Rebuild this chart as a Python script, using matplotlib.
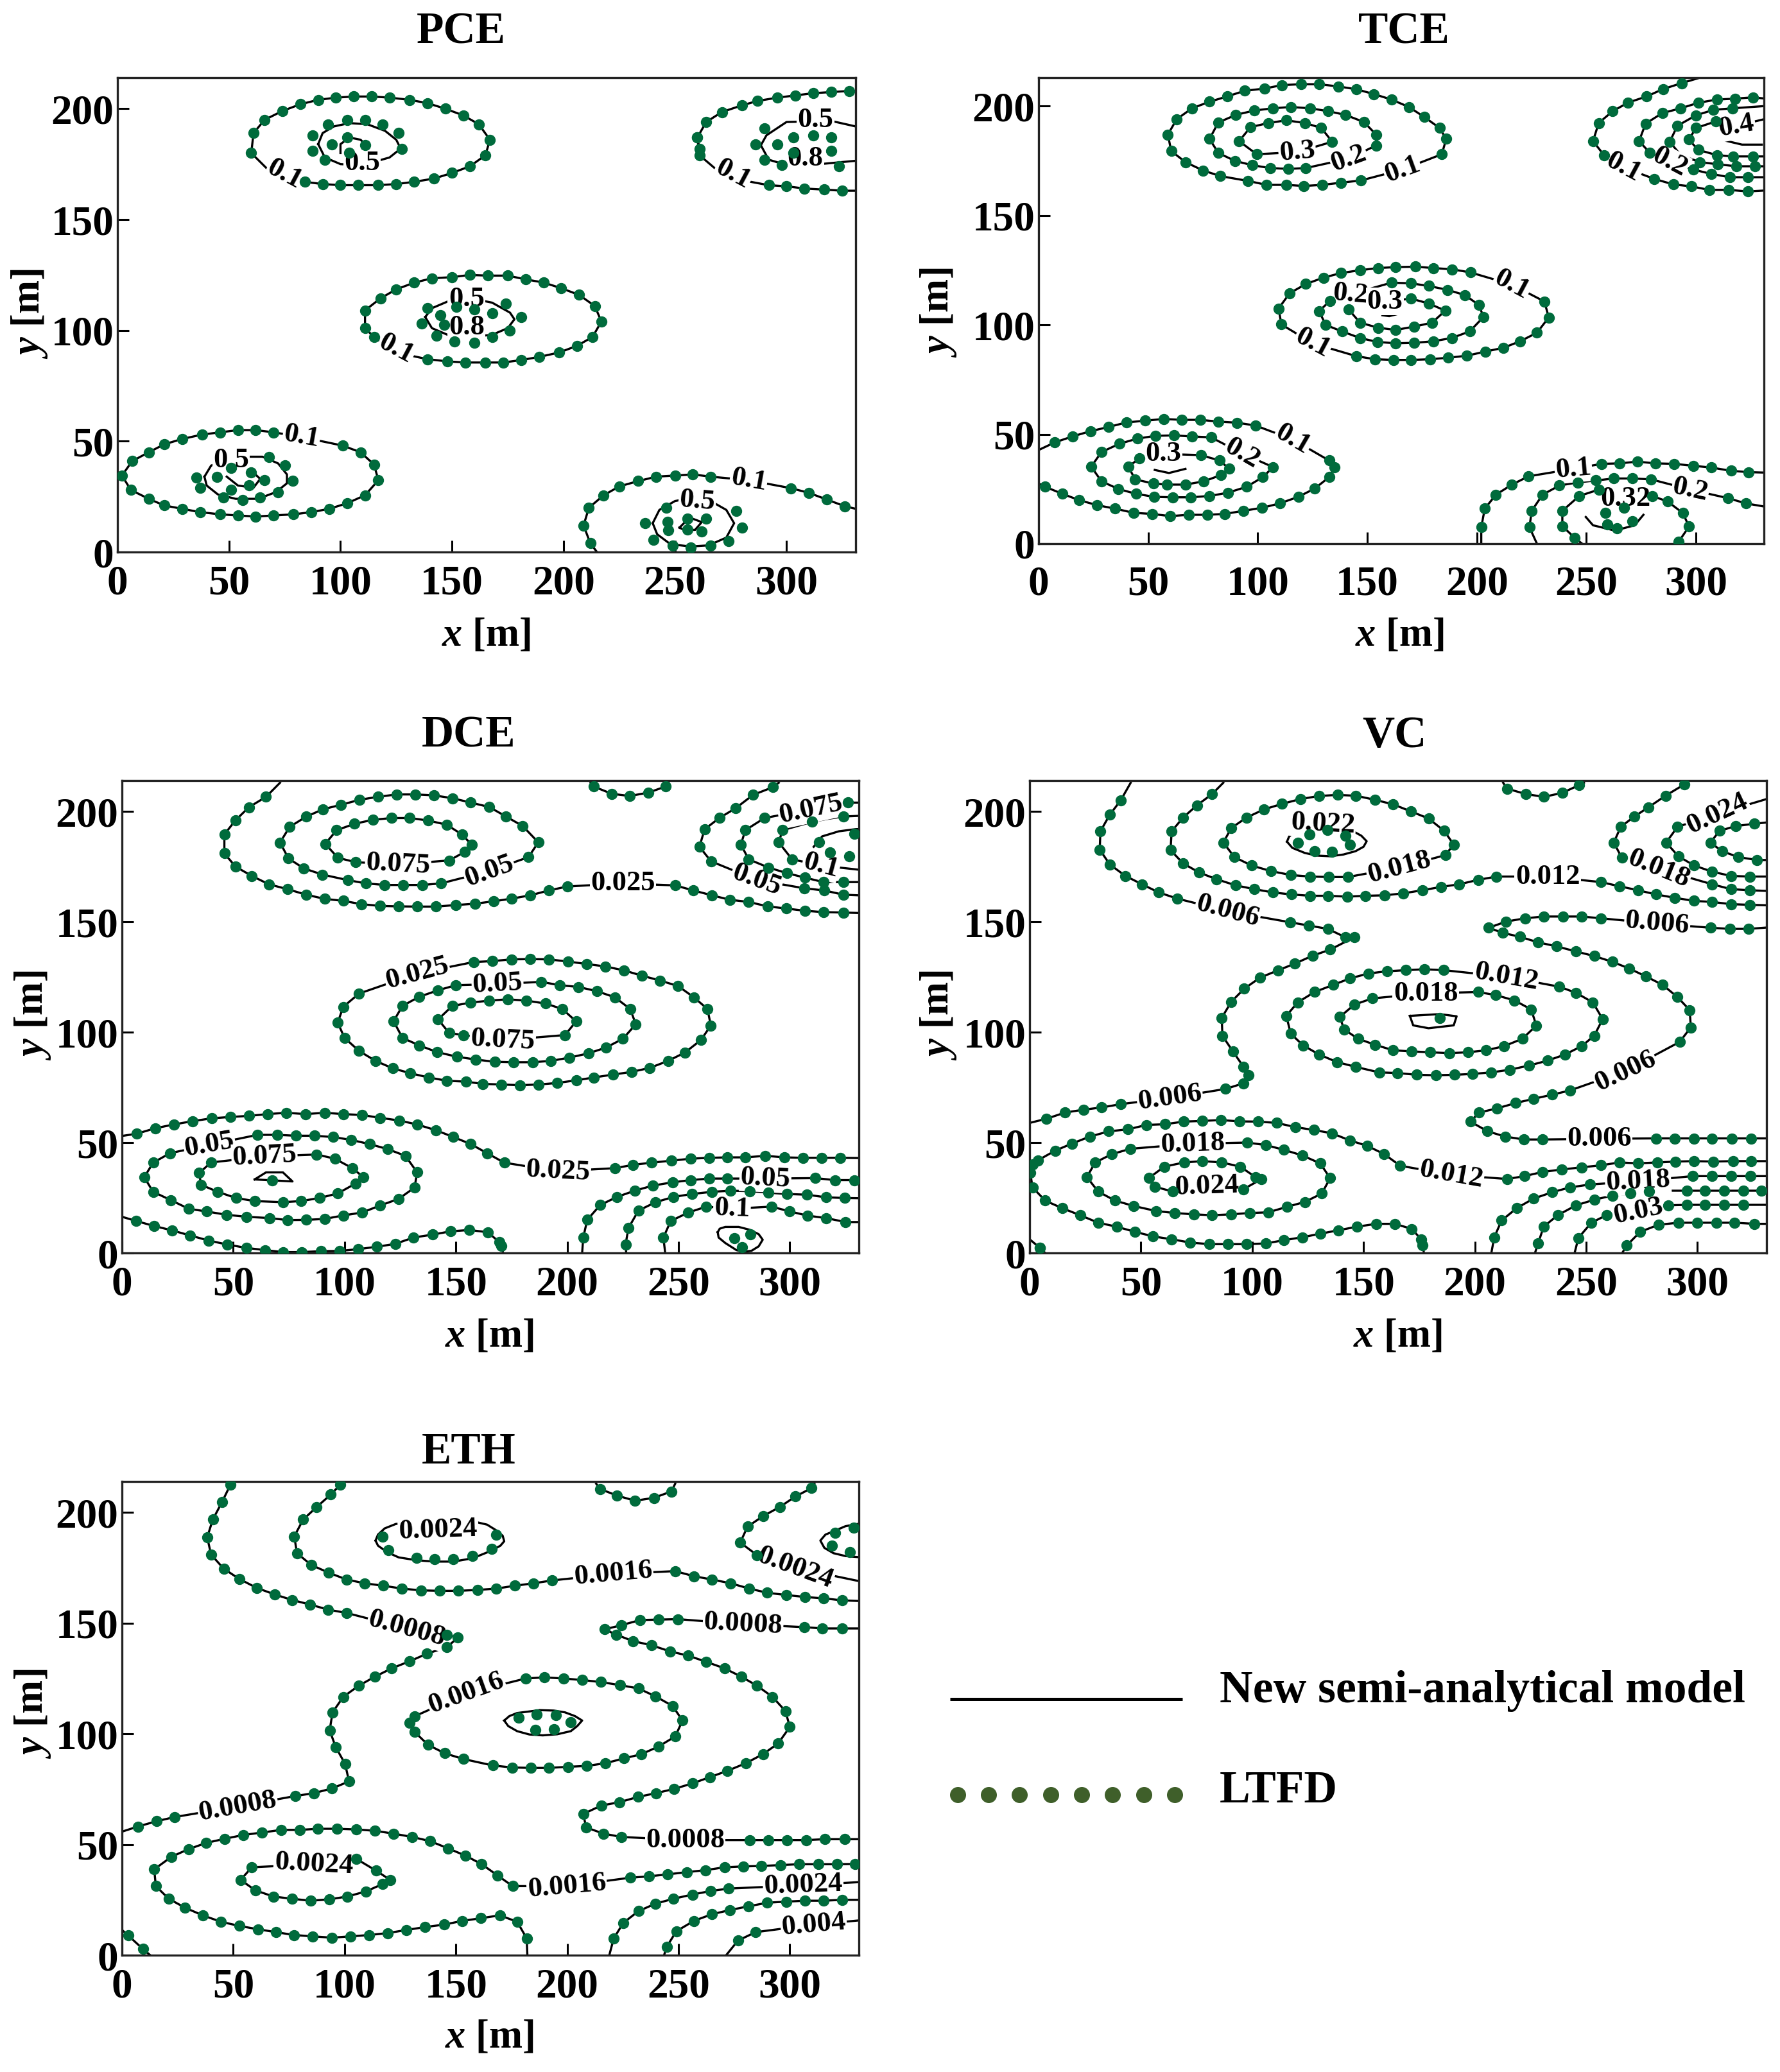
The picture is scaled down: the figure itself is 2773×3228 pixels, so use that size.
import matplotlib
matplotlib.use('Agg')
import matplotlib.pyplot as plt

plt.rcParams['font.family'] = ['Liberation Serif', 'DejaVu Serif']
plt.rcParams['font.weight'] = 'bold'
plt.rcParams['mathtext.fontset'] = 'custom'
plt.rcParams['mathtext.rm'] = 'Liberation Serif:bold'
plt.rcParams['mathtext.bfit'] = 'Liberation Serif:italic:bold'
plt.rcParams['mathtext.it'] = 'Liberation Serif:italic:bold'

XTICKS = [0, 50, 100, 150, 200, 250, 300]
YTICKS = [0, 50, 100, 150, 200]

# ---------- PCE ----------
PCE_A = [(60,180),(61,189),(66,195),(74,199),(82,202),(90,204),(98,205),(106,205.5),(114,205.5),(122,205),(131,204),(139,202.5),(147,200),(155,197),(162,193),(167,186),(165,179),(158,174),(150,171),(142,168.5),(133,167),(125,166),(117,165.5),(108,165.5),(100,165.5),(92,166),(84,167),(75,170),(67,173),(60,180)]
PCE_B = [(261,182),(260,187),(264,194),(271,198.5),(280,201.5),(287,203.5),(296,205),(304,206),(312,207),(320,207.5),(328,208),(331,208)]
PCE_B2 = [(260,187),(261,179),(268,173),(276,169),(284,167),(292,165.5),(300,165),(308,164),(317,163.5),(325,163),(331,163)]
PCE_C = [(111,101),(111,109),(118,114.5),(125,118.5),(133,121.5),(141,123.5),(150,124),(158,125),(166,124.7),(175,124.7),(183,123),(191,121.6),(199,119),(207,116),(214,111),(217,104),(213,97),(206,93),(198,90),(189,88),(181,86.6),(173,85.5),(165,85.5),(156,85.5),(148,86),(139,87),(125,90),(115,97),(111,101)]
PCE_D = [(2,34.5),(6.6,41),(14,45),(21,48.6),(29,51),(38,53),(46,54),(54,55),(62,55),(70,54),(82,52),(101,48),(109,45),(115,39.5),(117,32.4),(111,25.6),(103,22),(95,19.5),(87,18),(79,17),(70,16.5),(62,16),(54,16.5),(46,17),(37,18),(29,19.5),(21,21),(14,24),(6,28),(2,34.5)]
PCE_E = [(215,0),(212,4),(209,12),(211.4,20),(218,25.6),(225,29.6),(233.5,32),(241.6,34),(250,34.5),(258,35),(266,34),(283,32.4),(302,28.8),(310,26.7),(318,23.7),(326,20.7),(331,19.5)]
PCE_LINE_1 = [(90,184),(92,189),(97,192),(104,193.5),(112,193),(120,190),(125,186),(127,182),(122,178),(115,176),(108,174.5),(100,175),(93,178),(90,184)]
PCE_LINE_2 = [(100,180),(100,184),(104,187),(109,186),(112,183),(108,180)]
PCE_LINE_3 = [(331,192),(320,194.5),(300,194),(291,188),(288.5,183.5),(292,177),(302,174),(315,175),(331,176.5)]
PCE_LINE_4 = [(138,106),(141,110),(148,113),(158,114.5),(168,112.5),(176,108),(178,105),(175,101),(168,98),(158,97),(148,98),(141,101),(138,106)]
PCE_LINE_5 = [(39,34),(42,39),(48,41.5),(55,43),(65,43),(72,40),(76,35),(76,31),(71,27),(63,24),(53,24),(45,26),(40,30),(39,34)]
PCE_LINE_6 = [(49,34),(54,30),(61,29),(64,33),(60,36.7)]
PCE_LINE_7 = [(240,13),(243,19),(250,23),(258,24.5),(266,23),(273,19),(276.5,13),(273,6.5),(265,3),(257,2.5),(248,3.5),(242,8),(240,13)]
PCE_LINE_8 = [(252,11),(254,13),(258,15),(262,13.5),(259,10),(254,10),(252,11)]
PCE_DOTS_1 = [(87.5,188),(94.5,193),(103,195),(111,195),(119,193),(126,189),(127.5,182),(87.5,181),(93,177),(96,184),(103,187),(111,183.5),(104,180)]
PCE_DOTS_2 = [(290,191),(286,184),(290,177),(298,174.5),(323.5,174),(320,187),(296,184),(303,187),(312,188),(320,181),(303,180)]
PCE_DOTS_3 = [(139,110),(136.5,103),(143,97.5),(168,97),(176,100),(181,106),(174,112),(144.7,107),(152,110.5),(160,109.6),(168,107.7),(146.5,102.6),(151,95),(160,94.5)]
PCE_DOTS_4 = [(35.5,33.5),(37,29),(47.5,24.5),(56,23.5),(64,24.5),(72,27),(78.5,32),(75,39),(68,43),(44.7,34),(51,38),(60,36),(66,32.4),(59,30),(51,28)]
PCE_DOTS_5 = [(236.5,13),(240.4,5.6),(249,3),(257,2),(266,3),(274,5),(280,11),(277.4,18.5),(246,20),(246.7,13.5),(247,9.8),(255.6,15),(255.6,10),(263.8,15),(262,9.4)]
PCE_LABELS = [('0.1',75,170.4,-28),('0.5',109.6,175.5,0),('0.1',276,170.4,-28),('0.5',313,195,0),('0.8',308.4,177.4,0),('0.5',156.5,114,0),('0.8',156.5,101.3,0),('0.1',125,91.7,-28),('0.5',51,41.4,0),('0.1',82.5,52,-10),('0.1',283,32.4,-10),('0.5',260,23,-5)]

# ---------- TCE ----------
TCE_A = [(59,187),(63,194),(70,199),(78,202),(86,204.4),(94,207),(103,208),(111,209.6),(119.7,210),(128,210),(136.7,209),(145,207.7),(153,205.5),(161,203),(169,199.6),(176,195),(183,190),(186,185),(184,178),(166,171),(147,166),(138,165),(129.5,164),(121,163.5),(113,164),(104,164),(95.6,165.8),(83,168),(75,170.6),(67,174.4),(60.5,179.5),(59,187)]
TCE_B = [(78,185),(82,192.5),(90,196),(98.5,198),(107,199),(115,199.6),(124,199),(132,197.7),(140,196),(148.5,192.7),(154,187),(154,182),(141.5,176),(122,171.7),(114,171.3),(105.6,171.7),(97.4,173),(89.5,175),(82,178.6),(78,185)]
TCE_C = [(91.5,184),(96.7,190.4),(105,192.3),(113,193.5),(121.5,192.3),(129,190),(134,183.7),(118,179),(99.5,178),(91.5,184)]
TCE_D = [(302.5,214),(301.8,213),(293.4,210.5),(285,207.8),(277.4,204.4),(269,201.6),(262,197.7),(255.6,192.3),(253,184),(258,177.6),(267,172),(281,166.7),(289.7,164.2),(298,163.3),(306,161.7),(315,161.7),(323.6,161),(331,161.4)]
TCE_E = [(331,203.5),(326,204),(317.7,203.4),(309.5,203),(301,201.5),(293,199),(284.6,196.8),(277,192),(274,184),(279,178.6),(288,174.4),(298.7,171),(307,169),(315.4,167.5),(323.6,167.5),(331,167.5)]
TCE_F = [(331,200),(316.7,199),(308,198.3),(300,195.8),(291.5,191),(288,183.7),(293,177.6),(301.8,174.4),(310,173.4),(318.3,172.5),(327,172.5),(331,172.5)]
TCE_G = [(331,194),(318.5,191),(309,193),(300,190),(296.7,184.7),(301,180),(309.5,177.6),(317,177),(326,177),(331,177)]
TCE_H = [(109.5,107.5),(114.6,114.5),(122,118.7),(130,121.6),(138,123.7),(146.7,125),(155,126),(163,126.4),(171.8,126.6),(180,126),(188.7,125.4),(197,124),(216,118.4),(230.8,110.7),(232.8,103.4),(227.4,96.4),(219.7,92.5),(212,89.5),(203.8,87.8),(195.4,85.9),(187,85),(178.7,84.3),(170,84),(162,84),(153.6,84.3),(145,85.7),(125,91.6),(110.8,100.2),(109.5,107.5)]
TCE_I = [(128,106.3),(133,111),(142.3,114),(161,119.3),(170,119),(178,117.8),(186.7,116),(194.6,113.6),(201,109),(203,103.6),(196.7,97),(188.5,94),(180,92.5),(171.5,91.8),(162.8,91.6),(154.6,92.2),(146.7,94),(138.5,97),(131,100),(128,106.3)]
TCE_J = [(141.5,107),(146,110),(158,110.7),(170,112),(178,109.8),(185.6,106.5),(179.5,101),(171.3,99.2),(163,97.7),(155,98.7),(146.7,101),(141.5,107)]
TCE_K = [(0,42.8),(7.4,46.3),(15.4,49),(23.6,51.4),(31.8,53.3),(40,55.4),(48.5,56.2),(57,57),(65.4,56.6),(73.8,56.6),(82,55.8),(90.5,55.3),(99,54),(116,47.6),(132.6,38),(135,35),(132.6,30.4),(126,25.2),(118.5,21.4),(110,18.4),(102,16.4),(93.3,15),(85,13.6),(77,13.2),(68.5,13.2),(60,12.6),(51.8,13.6),(43.3,14.1),(35,16),(26.7,17.6),(18.5,19.9),(10.8,22.8),(3,26),(0,27.5)]
TCE_L = [(24,35.2),(28.7,41.9),(37,45.7),(45,48),(53.3,49.3),(61.8,49.5),(70,49),(78.7,48.6),(92.8,41.3),(107,35),(102.3,30.4),(94.9,26),(86.4,23.3),(78,21.8),(69.5,21.2),(61.3,21.2),(52.8,21.4),(44.4,22.8),(36.4,25),(28.7,28.5),(24,35.2)]
TCE_M = [(41,35.2),(46,39),(57,41),(74,40.5),(82.6,38),(87,34.2),(83.3,31.4),(75.4,28.5),(67,27),(58.7,27),(52.3,27.5),(44,29.4),(41,35.2)]
TCE_N = [(202,0),(202,7.5),(203.6,16),(208.7,22.4),(216,27),(223.6,30.8),(244,34.2),(257,36.5),(265,36.7),(273.3,37.5),(281.5,36.7),(290,36.5),(298.7,35.6),(307,34.8),(316,33.3),(324,32.7),(331,32.5)]
TCE_O = [(227.4,0),(224,7.5),(225,15),(230,22.4),(237.7,26.6),(246,28),(254.4,28.9),(262.6,29.8),(271,29.8),(279.5,29.4),(297.4,24.7),(314.6,20.8),(322.8,18.4),(331,17)]
TCE_P = [(248,0),(244.6,2.7),(239,8),(239,15),(246.7,21.8),(255.6,24.7),(267.7,20.5),(280,21.8),(287,19.3),(294,14),(296.8,7.8),(292,0.8),(291,0)]
TCE_LINE_1 = [(249.7,12.2),(253,8.4),(263,6),(272,8.4),(276,13.2)]
TCE_LINE_2 = [(313,184.3),(321,182.4),(330,182.4)]
TCE_LINE_3 = [(53,33.7),(59.5,32.3),(67,34.2)]
TCE_LINE_4 = [(156.9,104.4),(160,104),(164,105)]
TCE_DOTS_1 = [(258.7,14),(259.4,8.8),(264,6.9),(271,10.3),(267,16.4)]
TCE_LABELS = [('0.3',118,179,5),('0.2',141.5,176,20),('0.1',166,171,20),('0.1',267,172,-28),('0.2',288,174.4,-28),('0.4',318.5,191,10),('0.2',142.3,114,-5),('0.3',158,110.7,0),('0.1',216,118.4,-28),('0.1',125,91.6,-28),('0.3',57,41,0),('0.2',92.8,41.3,-30),('0.1',116,47.6,-30),('0.1',244,34.2,5),('0.2',297.4,24.7,-12),('0.32',267.7,20.5,0)]

# ---------- DCE ----------
DCE_A = [(71,213),(64.7,206.6),(57,201.9),(51,196),(46,189.6),(46,181),(51,175),(58.3,170.8),(66,167),(74.3,164.8),(82.7,162.3),(91,160.4),(99.4,159.5),(107.5,158),(116,157.2),(124.3,157),(132.6,156.9),(141,156.9),(150,157.6),(158.5,158.2),(167,159.3),(175,160.5),(183.4,162),(191.7,164.2),(200,166),(225,167.4),(248.5,166.5),(256.7,164.2),(265,162),(273,160),(281.5,159),(290,157),(298.5,156),(306.9,155),(315,154.4),(324,154.2),(331,154)]
DCE_B = [(295,213),(292.4,211),(283.5,207.5),(275.7,201.5),(268.3,197),(261.7,191.9),(259.4,184),(264.6,177.4),(285,169),(306.4,165.2),(315.5,164.2),(324,162.3),(331,162)]
DCE_C = [(331,204),(326,204),(309.4,201),(288.6,197),(280,191.5),(278,185),(281.5,178.3),(290.4,174.6),(298.8,172),(306.9,170),(315,168),(324,168),(331,168)]
DCE_D = [(331,198),(324,197.7),(316.7,196.6),(310,195.3),(296.7,191.5),(295,186),(301,178.3),(314,175.5),(331,173.6)]
DCE_E = [(210.5,213),(211.8,211.3),(220,208),(228,207),(236.4,208.5),(244.2,211.3),(245.5,213)]
DCE_F = [(71,185.9),(75.3,193),(82.7,197.6),(90.3,201),(98.4,203),(106.8,205.3),(114.9,206.6),(123.3,207.7),(131.9,207.7),(140,207.3),(148.4,206),(156.7,204),(165,202),(172.5,197.7),(180,193.4),(187,186),(182.6,179.3),(165,173),(143.3,167.4),(134.9,166.7),(126.3,166.7),(118,166.7),(109.6,167.4),(101.4,168.9),(90,171.4),(81.7,174.2),(74.8,178.7),(71,185.9)]
DCE_G = [(91.3,185.3),(96.4,191.5),(104.5,194.4),(112.6,196.2),(121,197),(129.3,197),(137.5,195.9),(145.8,194),(152.7,189.6),(157,185),(154,181.7),(147,177.8),(124,176),(105,177),(97,179),(91.3,185.3)]
DCE_H = [(96.9,104.3),(99.4,111.5),(106.5,117.5),(132.6,126.6),(158,131.8),(166.4,132.2),(175,133),(183.4,133.1),(191.7,133),(200.3,132),(208.7,130.9),(217,129.8),(225.5,128),(233.6,125.6),(241.7,123.4),(249.8,120.9),(256.9,115.8),(263,110.5),(264.5,103),(260,96.4),(252.9,90.8),(245.3,87),(237,83.8),(228.8,82),(220.6,80.8),(212,79.5),(204,78.2),(195.5,77),(187,76.3),(178.8,76),(170.4,76.3),(162,76.6),(154.4,77.6),(146,78),(137.7,79.5),(129.6,81.4),(121.7,83.6),(113.9,87),(106.5,91.5),(100,97.4),(96.9,104.3)]
DCE_I = [(122,105),(126,111.9),(133.4,116),(142,119),(150,121.3),(168.7,121.8),(188.4,122.8),(196.5,121.3),(205,120.5),(213.3,118.6),(221.4,115.8),(228.3,110.5),(230.8,103.6),(225,97),(217.3,93),(209.5,90.4),(201,88.5),(192.7,87),(184.4,86.4),(176,86.4),(167.4,86.6),(159,87.6),(150.4,88.9),(141.5,91),(133.6,94),(126,97.4),(122,105)]
DCE_J = [(142,105.8),(148.4,111.9),(156.5,113.4),(165,114.3),(173.2,114.9),(181.6,114.3),(190.2,113),(197.8,110.5),(204,104.9),(199,98.7),(171,96.4),(153.4,98.7),(147,99.6),(142,105.8)]
DCE_K = [(0,53),(6.6,54),(15,56.5),(23.3,58.2),(31.7,59.7),(40.3,61),(48.7,61.6),(57,62.1),(65.4,62.9),(73.8,63.5),(82.4,62.9),(91,63.5),(99.4,62.9),(107.8,62.5),(116,61.2),(124.5,60),(132.6,58.2),(141,55.6),(148.9,52.5),(156.7,49.3),(164,45.2),(171.7,40.9),(195.8,37),(221.4,38.4),(229.5,39.9),(237.9,40.9),(246.8,41.8),(255.4,42.7),(263.8,43.1),(272,43.3),(280,43.3),(289,44),(297.6,43.3),(306,43.1),(314.2,43.1),(322.6,43.1),(331,43)]
DCE_L = [(10,34.3),(14,40.9),(21.6,45.2),(39.3,49),(60.9,53.5),(69.7,53.5),(78,53.1),(86.5,53.1),(94.9,52.5),(103,51.2),(111.3,49.3),(119.5,47),(127.3,44),(132.6,36.5),(131.4,29.6),(124.3,24.5),(116,21.5),(107.8,18.3),(99.4,17),(91,15.4),(82.7,15),(74.3,14.9),(66.2,15.8),(55.8,16.4),(46.9,17.3),(38,18.8),(30,20),(22,23.9),(14,27.7),(10,34.3)]
DCE_M = [(34.7,36.2),(40,41),(64,43.7),(87.5,44.6),(95.6,42.7),(103.5,38.4),(108.5,34.3),(105,31.5),(97,27),(88.8,24.9),(80.4,23.5),(72.3,23),(59.6,23.5),(51.2,24.9),(43,27.7),(35.5,30.9),(34.7,36.2)]
DCE_N = [(0,16.4),(6.3,14.5),(14.5,12.2),(22.6,10.2),(30.7,7.9),(39,5.6),(47.4,3.8),(55.8,2.3),(64.2,1.3),(72.3,0.4),(80.6,0.4),(89.3,0.8),(97.6,0.9),(106,1.7),(114.4,2.8),(122.7,4.1),(131,7),(139.5,8.3),(147.6,9.8),(156,10.4),(164.3,9.4),(169.4,5),(170.4,3.2),(171.2,0)]
DCE_O = [(206.7,0),(207.2,7),(209,15),(214.8,21.7),(222.4,25.4),(230.3,28.2),(238.4,30.5),(247.3,32),(255.4,33),(263.8,33.7),(272,33.7),(289,33.7),(311.4,33.9),(320.3,33),(329,33),(331,33)]
DCE_P = [(226.5,0),(226.2,3.8),(227.5,11.3),(232,19.2),(239.7,23),(247.8,25.4),(256,26.7),(265,27.7),(273.4,28.2),(282,28),(290.4,27.3),(298.8,26.7),(307.6,26.4),(316.3,25.2),(324.6,24.9),(331,24.8)]
DCE_Q = [(244,0),(243.2,7),(246.5,14.5),(254.4,18.3),(262.5,21),(274,20),(291.7,21),(300,18.8),(308,16.9),(316.3,15.8),(325,14),(331,14)]
DCE_LINE_1 = [(59.6,33.3),(64.7,36.5),(72.3,36.5),(76.6,32.4),(59.6,33.3)]
DCE_LINE_2 = [(267.6,9.4),(268.5,11),(271,11.8),(277,11.8),(282,10.5),(286,8.5),(287.8,6),(286,3),(282.8,1),(279,0.5),(276,1.3),(271,4.5),(268,7),(267.6,9.4)]
DCE_LINE_3 = [(331,192),(329.7,192),(322,191),(314.5,188.7),(310.7,184)]
DCE_DOTS_1 = [(67.5,33),(275.2,6.6),(282.3,8.3),(278.5,2.6),(313,186),(318,181.5),(326.7,179.7),(329,190)]
DCE_LABELS = [('0.075',124,176,-3),('0.05',165,173,20),('0.025',225,167.4,0),('0.05',285,169,-20),('0.075',309.4,201,12),('0.1',314,175.5,-15),('0.025',132.6,126.6,15),('0.05',168.7,121.8,3),('0.075',171,96.4,-3),('0.05',39.3,49,10),('0.075',64,43.7,3),('0.025',195.8,37,-3),('0.05',289,33.7,-3),('0.1',274,20,-2)]

# ---------- VC ----------
VC_A = [(45.4,213),(40.9,205),(36,198.5),(31.8,191),(31.5,182.7),(36,176),(43,170.8),(50.5,167),(58,163.3),(66.4,160.5),(89,154.8),(117,149.8),(125.4,148.3),(134,146.8),(141.8,143),(145.8,143),(135,137.4),(127.2,134.7),(119,131),(111.5,128),(103.5,124.7),(96.4,119.7),(90.6,113.8),(86.3,106.5),(86.6,98.4),(91.3,91.3),(96.1,84.3),(98.4,80.5),(95.9,76.8),(88,74.3),(63,70.2),(40.9,67.4),(32.3,65.9),(24.2,64.9),(15.9,63.6),(7.6,60.8),(0,58.9)]
VC_B = [(87,213),(82,207.9),(75.2,202.8),(68.9,197.2),(63.8,191),(63.3,182.5),(68.9,176.5),(76.2,172.3),(84,169.3),(92.6,166.5),(101,164.8),(109.3,163.3),(117.6,162.4),(126,161.8),(134.2,161.8),(142.6,161.4),(150.9,161.8),(159.5,162),(167.8,162.9),(176.4,164.3),(184.7,165.8),(193,167),(201.4,169),(209.7,170.5),(232.7,170.5),(256.6,168),(265,166.1),(273.3,164.3),(281.4,162.4),(289.7,160.9),(298.3,159.5),(306.6,159),(315,158),(323.5,157.7),(331,157.5)]
VC_C = [(87,185.9),(90.6,192.5),(97.4,197.2),(105.2,200.9),(113.3,203.4),(121.6,205.6),(130,207),(138.3,207.5),(146.6,207.1),(155,205.3),(163.3,203.2),(171.3,200),(179.2,196.8),(186.2,191.2),(190.5,185),(186.7,180.2),(166,174.6),(143,170.3),(134.5,170.3),(126,170.5),(117.3,171.2),(108.3,173),(99.7,175.5),(92,179.3),(87,185.9)]
VC_D = [(212.7,213),(214.5,210.3),(222.8,207.9),(231,206.6),(239.2,208.4),(246.8,211.9),(249,213)]
VC_E = [(295,213),(294,212.2),(285.6,207.1),(278,201.9),(271.5,197.6),(265.5,193),(262.4,185.9),(266,179),(282.6,174),(306.6,167),(315,164.8),(323.5,164.3),(331,164)]
VC_F = [(331,205.6),(309,199),(291,193),(285.9,185.9),(291.4,179.7),(298.5,175.5),(306.6,172.7),(315,170.8),(323.5,170.5),(331,170.5)]
VC_G = [(331,195),(325.5,194.4),(317.2,193.4),(309.9,191.2),(305.8,185.9),(311,182),(318.4,179.3),(326.8,178),(331,178)]
VC_H = [(331,147.4),(323,146.8),(314.7,146.8),(306,147.3),(281.9,149.2),(256.6,151.6),(248,152.4),(239.7,152.4),(230.9,152.4),(222.6,151.6),(214,150.1),(206.2,147.3),(212.5,145),(220.3,143.2),(228.4,140.7),(236.7,138.9),(245.3,136.6),(253.6,134.5),(261.7,131.9),(269.2,128.9),(276.8,125.3),(284.4,121.4),(291,115.9),(296.5,110),(297,102.2),(292,95.6),(267.5,82.4),(242.7,73.6),(234.7,71.7),(226.3,69.8),(218.3,67.9),(210,65.5),(201.9,63.6),(198,59.5),(205.7,55.1),(213.7,52.7),(222,51.4),(230.4,51.4),(256,51.7),(281.3,51.9),(289.7,51.9),(298.3,51.9),(306.6,51.9),(315.3,51.9),(324.2,51.9),(331,51.9)]
VC_I = [(115.3,107.4),(120.4,113.5),(128,118.2),(136.3,121.4),(144,124.4),(152.2,126.6),(160.5,127.6),(169,128.1),(177.4,128.5),(186,128.1),(214,125.1),(238,120.6),(245.5,117.8),(253,113.5),(257.4,105.9),(253.6,98.4),(248,93.7),(240.5,89.9),(232.6,87.1),(224.3,84.9),(215.7,83),(207.4,81.8),(199,81.1),(190.8,80.7),(182.4,80.5),(173.9,80.7),(165.3,81.5),(157,81.8),(146.4,84.3),(138,86.5),(130,89.9),(122.9,94),(117.3,99.3),(115.3,107.4)]
VC_J = [(139.3,106.9),(145.9,112.5),(153.9,115.3),(177.9,117.6),(201.4,118.2),(209.4,116.8),(217.8,114.4),(225.3,110.3),(227.6,103),(221.3,97),(213.2,93.7),(205.1,91.8),(196.8,90.9),(188.5,90.5),(179.9,90.9),(171.6,91.3),(163.3,91.8),(155.2,94.3),(147.6,97),(141.3,101.2),(139.3,106.9)]
VC_K = [(177.1,0),(176.6,3.4),(175.9,6.2),(171.6,10.9),(164,13.2),(155.7,13.2),(147.1,11.9),(138.8,10.3),(130.5,8.7),(122.4,7.1),(114.3,5.8),(106,4.3),(97.4,4),(89,4),(80.7,4),(72.2,4.7),(63.8,6.2),(55.5,7.5),(47.2,9.6),(39.1,11.9),(30.8,13.7),(22.7,17.1),(14.6,20.3),(7,23.7),(1.3,29.7),(0.3,36.3),(1.3,40),(3.8,42),(11.4,46.3),(18.9,49.5),(27,52.7),(35.6,55.1),(44.2,56),(52.5,58),(60.8,58.3),(69.1,59.5),(77.5,59.8),(85.8,60.2),(94.4,59.6),(102.7,59.5),(111,58.9),(119.4,57),(127.7,55.7),(135.8,54.2),(143.8,51),(151.7,48.5),(159.2,44.8),(166.5,39.5),(189.3,35.4),(214.5,33.5),(222.3,34.8),(230.4,36.7),(239,37.8),(248,38.8),(256.6,39.7),(265,41),(273.3,40.6),(281.9,41),(290.2,41.4),(298.5,41.6),(307,41.4),(316,41.6),(324.2,41.6),(331,41.6)]
VC_L = [(25.7,34.4),(29.5,41),(37,44.8),(45.4,47.2),(73.2,49.5),(97.7,50),(106,48.9),(114.3,46.7),(122.4,44.2),(130.5,40.6),(135,33.9),(131.2,26.9),(123.6,23.1),(115.6,20.9),(107.2,18.4),(98.9,18.1),(90.6,17.5),(82,17.1),(73.7,17.5),(65.1,18.1),(56.8,19),(46.7,21.3),(38.4,23.7),(30.8,27.8),(25.7,34.4)]
VC_M = [(53.5,33.9),(60.5,39.1),(69.4,41),(77.7,41.6),(86.3,41),(94.6,39.1),(101.4,34.4),(104.2,33.5),(95.9,28.8),(79.5,30.3),(64.3,27.8),(56.3,30),(53.5,33.9)]
VC_N = [(0,6.2),(4.5,2.4),(7,0)]
VC_O = [(207.4,0),(208.7,7.1),(212,14.7),(218.8,20.3),(226.3,24.6),(234.7,27.5),(242.7,29.7),(251.6,31),(273.3,32.5),(297.8,34.8),(306.6,34.8),(315.2,34.8),(323.8,34.8),(331,34.8)]
VC_P = [(227,0),(228.4,4.3),(230.9,11.9),(237.2,17.1),(245.5,21.6),(253.6,24.1),(261.7,26),(270,26.9),(278.3,27.8),(286.9,28.2),(295.2,28.2),(303.3,28.2),(312.1,28.2),(320.5,28.2),(328.8,28.2),(331,28.2)]
VC_Q = [(244.8,0),(246.5,6.8),(252.3,13.7),(259.1,17.1),(273.3,19),(286.9,21.6),(295.2,21.8),(303.3,21.8),(312.1,21.8),(320.5,21.8),(331,21.8)]
VC_R = [(266.2,0),(268.2,3.4),(274.3,9.6),(282.6,12.8),(291.4,13.7),(299.8,13.7),(308.4,13.7),(316.7,13.7),(325.5,13.2),(331,13.2)]
VC_LINE_1 = [(115.6,186.3),(116.5,188.5),(118.6,190.6),(131.7,194.4),(145,191.2),(149,189),(151.4,186.5),(150,184),(146.4,182),(141,180.5),(135,179.7),(129,180),(123.6,181.2),(118,183.5),(115.6,186.3)]
VC_LINE_2 = [(170.8,107.4),(184.2,108.2),(191.8,107.2),(190.5,103.1),(179.2,101.8),(172.3,103.1),(170.8,107.4)]
VC_DOTS_1 = [(120.4,185.9),(125.7,189.6),(133.7,191.5),(141.8,189),(143.8,185),(135.8,181.6),(128,182.1),(184.2,106.3),(4.5,2.4)]
VC_LABELS = [('0.022',131.7,194.4,-3),('0.018',166,174.6,15),('0.012',232.7,170.5,0),('0.018',282.6,174,-22),('0.024',309,199,25),('0.006',89,154.8,-15),('0.006',281.9,149.2,-5),('0.012',214,125.1,-10),('0.018',177.9,117.6,0),('0.006',267.5,82.4,25),('0.006',63,70.2,8),('0.006',256,51.7,0),('0.018',73.2,49.5,2),('0.024',79.5,30.3,2),('0.012',189.3,35.4,-10),('0.018',273.3,32.5,3),('0.03',273.3,19,12)]

# ---------- ETH ----------
ETH_A = [(49,213),(48.7,212.5),(45,204.8),(40.8,196.8),(38.3,188.8),(40,181),(45.7,174.6),(52.8,169.9),(60.6,165.9),(68.5,163),(76.3,160.5),(84.5,158.4),(92.6,156.1),(100.9,154.6),(128,147.6),(145.8,144.8),(150.9,143.4),(145.8,139.1),(137,136.2),(129.3,132.8),(121.2,129.6),(113.6,125.8),(106.3,121.7),(99.4,116.7),(94.6,109.7),(93.3,101.6),(96,94),(100.2,86.5),(102,78.5),(94.3,75.3),(86.2,73.2),(77.9,71.9),(52,67.2),(23.6,62.4),(15.5,60.5),(7.1,58.1),(0,55.8)]
ETH_B = [(98,212.5),(93.8,208.1),(87.5,202.5),(81.4,196.8),(77.4,189.2),(78.6,181.6),(85,176.3),(92.8,172.8),(100.9,169.7),(109,168),(117.4,166.9),(125.8,165.6),(134.4,164.8),(142.8,164.6),(151.2,164.6),(159.8,165),(168.1,165.6),(176.5,166.9),(184.9,168),(193.3,169.3),(220.6,172.2),(248.5,173.5),(256.9,171.2),(265,169.7),(273.4,168),(281.8,165.6),(289.9,163.7),(298.5,162.7),(306.9,161.8),(315.2,161.2),(323.4,160.3),(331,160)]
ETH_D = [(213,213),(214.8,210.6),(222.4,207.6),(230.5,205.3),(238.9,206.6),(246.8,209.5),(248.5,213)]
ETH_E = [(311,213),(309.7,211),(302.5,207.2),(295.5,202.5),(287.9,198.3),(281,193.6),(277.7,186.4),(285.3,180.7),(302.3,175),(331,169)]
ETH_F = [(331,147.6),(323.4,147.6),(314.7,147.6),(306.4,148.2),(279,149.5),(249.8,151.8),(241,151.6),(232.8,151.4),(224.4,149.1),(216.8,147.2),(222,144.8),(229.5,141.9),(237.9,140),(246.3,137.2),(254.4,135.3),(262.5,132.5),(270.6,129.6),(278.2,125.8),(285.3,121.7),(292.2,116.7),(298,110.3),(300,103.1),(294.7,95.6),(287.9,90.8),(280.2,86.7),(272,83.3),(264,80.4),(256.2,77.6),(248,75.1),(239.9,73.2),(231.8,71.5),(223.4,69.1),(215.3,67.6),(207.2,63.8),(208.5,57.7),(216.3,54.9),(224.4,53.4),(253,52),(282,52),(290.4,52),(298.8,52),(307.4,52),(315.8,52.4),(324.6,52.4),(331,52.4)]
ETH_G = [(131.4,107.9),(154.7,118.3),(181.3,125),(189.7,125.5),(198.3,125),(206.7,124.3),(215,123.4),(223.7,122),(232,120.5),(239.7,116.9),(247.3,112.6),(251.8,106),(248.5,98.8),(240.9,94.2),(233.3,90.8),(225.5,88.9),(217.1,86.7),(208.7,85.5),(200.4,85.1),(191.7,84.6),(183.6,84.6),(175.2,84.8),(166.6,85.7),(153.4,88.6),(145,91.2),(137.5,95),(131.4,100.9),(129.3,105),(131.4,107.9)]
ETH_H = [(182.1,0),(181.8,7.6),(177.5,15.1),(169.7,18),(161.3,16.7),(152.9,15.5),(144.6,13.8),(136.2,12.7),(127.8,11.4),(119.5,10),(111,9.1),(102.7,8.5),(94.3,7.9),(85.7,8.5),(77.4,9.1),(69.2,10.4),(61.1,11.7),(52.8,13.2),(44.4,15.1),(36.3,18),(28.4,21.4),(21,25.5),(15.2,31.2),(14.5,38.8),(22.3,44.5),(29.9,47.9),(37.8,50.7),(46.2,52.6),(54.5,54.3),(62.9,55.4),(71.5,56.6),(79.9,56.6),(88,57.1),(96.6,57.1),(105.3,56.8),(113.6,56.2),(122,54.9),(130.4,53.4),(138.5,51.5),(146.6,48.2),(154.2,45),(161.6,41.1),(168.7,36),(175.5,31.2),(199.8,31.2),(228.3,35),(236.6,35.6),(245,36.5),(253.6,37.5),(262,38.4),(270.6,39.7),(279,40.1),(287.1,40.3),(295.7,40.7),(304.3,41.1),(312.7,41.1),(321.3,41.1),(329.4,41.2),(331,41.2)]
ETH_I = [(53.3,34),(58.3,39.7),(86.2,41.1),(105.3,43.5),(114.1,38.2),(120.5,34),(117.2,32.2),(109.6,28.8),(101.2,26.5),(93,25.2),(84.7,24.6),(76.3,25.5),(68,26.5),(59.9,29.3),(53.3,34)]
ETH_J = [(0,11.4),(2.8,8.9),(9.4,2.8),(12.7,0)]
ETH_K = [(218.9,0),(220.9,7.6),(225.2,14.6),(232,19.9),(239.7,23.3),(247.8,25.5),(256.2,27.4),(264.5,29),(272.6,30.1),(306,31.6),(331,33)]
ETH_L = [(243.5,0),(244.7,3.8),(249,10.8),(256.9,15.5),(265,18.5),(273.1,20.4),(281.5,22.1),(289.9,23.7),(298.5,24.2),(306.9,24.6),(315.2,24.6),(323.4,25),(331,25)]
ETH_M = [(271.4,0),(276.7,6.6),(284.6,10.4),(310.7,13.8),(331,15.7)]
ETH_LINE_1 = [(331,194.9),(325,193.8),(320.8,192),(316,190),(313.7,187.3),(315.5,184),(319.6,181.6),(325,180.3),(331,179.8)]
ETH_LINE_2 = [(171.7,106),(174,108),(177.5,109.4),(187.6,110.7),(194,110.5),(199,109.7),(203.5,108),(206.7,106),(204.5,103.5),(201.6,101.2),(195.5,99.8),(189,99.3),(183,99.7),(177.5,101.2),(173.5,103.5),(171.7,106)]
ETH_LINE_3 = [(113.9,187.3),(115,190),(118,192.8),(123,194.8),(142,197),(158.5,195.8),(164,194.5),(168,192),(171,189.5),(171.7,187),(170,185),(166.1,182.8),(157.5,179.3),(148.9,177.8),(140.5,177.8),(132.4,178.4),(124.3,179.7),(119.2,182),(115,185),(113.9,187.3)]
ETH_DOTS_1 = [(328.7,193),(320.3,190.7),(318.8,184.9),(327,182),(178.3,107.3),(186.4,108.8),(194.8,108.4),(201.6,105.4),(194,102.2),(185.6,101.8),(117,189),(119.7,183),(132.4,179.4),(140.5,178.8),(148.9,178.8),(157.5,180.3),(166.1,183.5),(168,190)]
ETH_LABELS = [('0.0024',142,192,2),('0.0016',220.6,172.2,5),('0.0024',302.3,175,-20),('0.0008',128,147.6,-15),('0.0008',279,149.5,-3),('0.0016',154.7,118.3,20),('0.0008',52,67.2,10),('0.0008',253,52,0),('0.0024',86.2,41.1,-3),('0.0016',199.8,31.2,5),('0.0024',306,31.6,2),('0.004',310.7,13.8,5)]

LEGEND_NAMES = ['New semi-analytical model', 'LTFD']

W, H = 2773, 3228
fig = plt.figure(figsize=(W/100, H/100), dpi=100, facecolor='white')

PANELS = [
 dict(title='PCE', box=(183,121,1333,860), ytop=214, xpad=14, title_xy=(718,68), xlab=(757,1005), ylab=(46,489),
      both=[PCE_A,PCE_B,PCE_B2,PCE_C,PCE_D,PCE_E],
      lines=[PCE_LINE_1,PCE_LINE_2,PCE_LINE_3,PCE_LINE_4,PCE_LINE_5,PCE_LINE_6,PCE_LINE_7,PCE_LINE_8],
      dots=[PCE_DOTS_1,PCE_DOTS_2,PCE_DOTS_3,PCE_DOTS_4,PCE_DOTS_5], labels=PCE_LABELS),
 dict(title='TCE', box=(1618,121,2748,847), ytop=213, xpad=24, title_xy=(2187,68), xlab=(2180,1005), ylab=(1462,487),
      both=[TCE_A,TCE_B,TCE_C,TCE_D,TCE_E,TCE_F,TCE_G,TCE_H,TCE_I,TCE_J,TCE_K,TCE_L,TCE_M,TCE_N,TCE_O,TCE_P],
      lines=[TCE_LINE_1,TCE_LINE_2,TCE_LINE_3,TCE_LINE_4], dots=[TCE_DOTS_1], labels=TCE_LABELS),
 dict(title='DCE', box=(190,1216,1338,1952), ytop=214, xpad=14, title_xy=(730,1164), xlab=(762,2097), ylab=(51,1582),
      both=[DCE_A,DCE_B,DCE_C,DCE_D,DCE_E,DCE_F,DCE_G,DCE_H,DCE_I,DCE_J,DCE_K,DCE_L,DCE_M,DCE_N,DCE_O,DCE_P,DCE_Q],
      lines=[DCE_LINE_1,DCE_LINE_2,DCE_LINE_3], dots=[DCE_DOTS_1], labels=DCE_LABELS),
 dict(title='VC', box=(1604,1216,2752,1952), ytop=214, xpad=14, title_xy=(2172,1164), xlab=(2177,2097), ylab=(1462,1582),
      both=[VC_A,VC_B,VC_C,VC_D,VC_E,VC_F,VC_G,VC_H,VC_I,VC_J,VC_K,VC_L,VC_M,VC_N,VC_O,VC_P,VC_Q,VC_R],
      lines=[VC_LINE_1,VC_LINE_2], dots=[VC_DOTS_1], labels=VC_LABELS),
 dict(title='ETH', box=(190,2308,1338,3046), ytop=214, xpad=14, title_xy=(730,2280), xlab=(762,3190), ylab=(51,2670),
      both=[ETH_A,ETH_B,ETH_D,ETH_E,ETH_F,ETH_G,ETH_H,ETH_I,ETH_J,ETH_K,ETH_L,ETH_M],
      lines=[ETH_LINE_1,ETH_LINE_2,ETH_LINE_3], dots=[ETH_DOTS_1], labels=ETH_LABELS),
]

GREEN = '#006b3c'
LW = 2.4
MS = 11.5
LABEL_FS = 32
TICK_FS = 47

def xy(p):
    return [a for a, b in p], [b for a, b in p]

def hidden(q, labels):
    if q[0] <= 0 or q[0] >= 331 or q[1] <= 0 or q[1] >= 212.6:
        return True
    return any(abs(q[0]-lx) < 2.8*len(t) and abs(q[1]-ly) < 4.5 for t, lx, ly, _ in labels)

for P in PANELS:
    l, t, r, b = P['box']
    ax = fig.add_axes([l/W, 1-b/H, (r-l)/W, (b-t)/H])
    ax.set_xlim(0, 331)
    ax.set_ylim(0, P['ytop'])
    ax.set_xticks(XTICKS)
    ax.set_yticks(YTICKS)
    ax.tick_params(direction='in', length=13, width=2.2, labelsize=TICK_FS, top=False, right=False)
    ax.tick_params(axis='x', pad=P['xpad'])
    ax.tick_params(axis='y', pad=4)
    for s in ax.spines.values():
        s.set_linewidth(2.4)
        s.set_color('#222222')
    for c in P['both']:
        x, y = xy(c)
        ax.plot(x, y, color='black', lw=LW, zorder=2)
        pts = [q for q in (c[:-1] if c[0] == c[-1] else c) if not hidden(q, P['labels'])]
        dx, dy = xy(pts)
        ax.plot(dx, dy, ls='none', marker='o', ms=MS, mfc=GREEN, mec=GREEN, zorder=5)
    for c in P['lines']:
        x, y = xy(c)
        ax.plot(x, y, color='black', lw=LW, zorder=2)
    for c in P['dots']:
        x, y = xy(c)
        ax.plot(x, y, ls='none', marker='o', ms=MS, mfc=GREEN, mec=GREEN, zorder=5)
    for txt, lx, ly, rot in P['labels']:
        ax.text(lx, ly, txt, fontsize=LABEL_FS, fontweight='bold', rotation=rot, rotation_mode='anchor',
                ha='center', va='center', zorder=4,
                bbox=dict(boxstyle='square,pad=0.03', fc='white', ec='none'))
    fx = lambda px: (px-l)/(r-l)
    fy = lambda py: (b-py)/(b-t)
    ax.set_title(P['title'], fontsize=50, fontweight='bold', x=fx(P['title_xy'][0]), y=fy(P['title_xy'][1]), va='baseline', pad=0)
    ax.set_xlabel(r'$\mathbfit{x}$ [m]', fontsize=45, fontweight='bold')
    ax.xaxis.set_label_coords(fx(P['xlab'][0]), fy(P['xlab'][1]))
    ax.xaxis.label.set_va('baseline')
    ax.set_ylabel(r'$\mathbfit{y}$ [m]', fontsize=45, fontweight='bold')
    ax.yaxis.set_label_coords(fx(P['ylab'][0]), fy(P['ylab'][1]))
    ax.yaxis.label.set_va('center')

# legend, laid out on the figure in pixel units
lg = fig.add_axes([0, 0, 1, 1], facecolor='none')
lg.set_xlim(0, W)
lg.set_ylim(H, 0)
lg.axis('off')
lg.plot([1480, 1842], [2647, 2647], color='black', lw=3.6, solid_capstyle='butt')
lg.plot([1492, 1540, 1588, 1637, 1685, 1733, 1782, 1830], [2796]*8, ls='none', marker='o', ms=17, mfc='#3f5f2a', mec='#3f5f2a')
lg.text(1900, 2652, LEGEND_NAMES[0], fontsize=51.5, fontweight='bold', va='baseline', ha='left')
lg.text(1900, 2808, LEGEND_NAMES[1], fontsize=51.5, fontweight='bold', va='baseline', ha='left')

fig.savefig('out.png', dpi=100, facecolor='white')
